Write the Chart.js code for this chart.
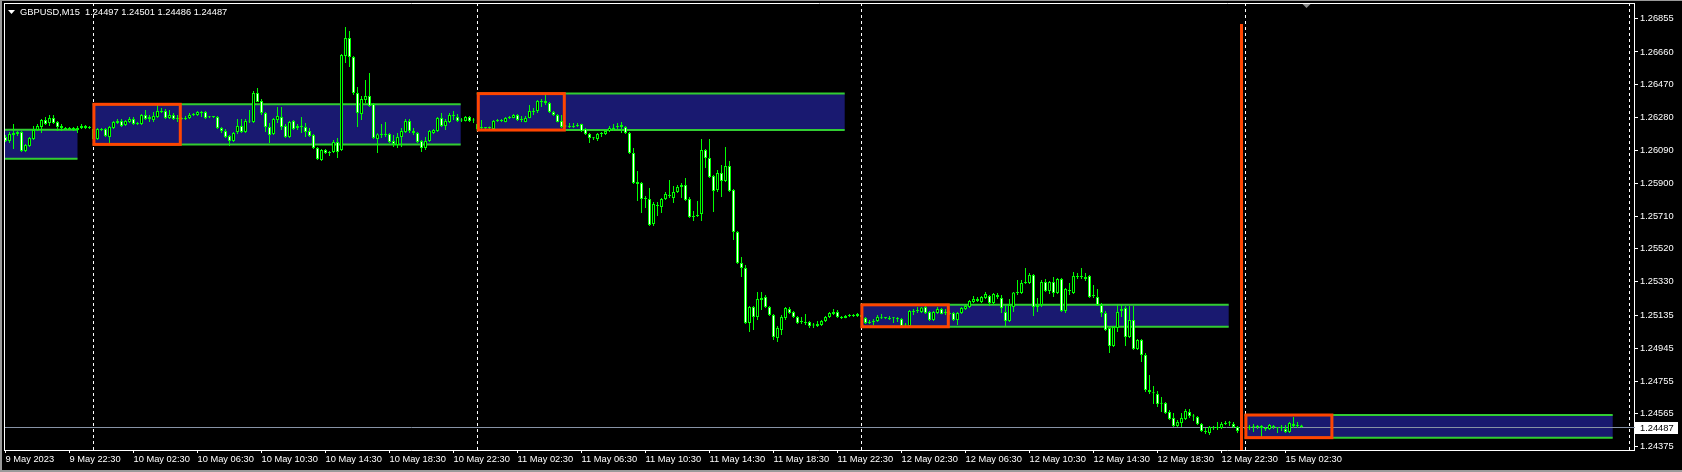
<!DOCTYPE html>
<html>
<head>
<meta charset="utf-8">
<title>GBPUSD,M15</title>
<script src="https://cdn.jsdelivr.net/npm/chart.js@4.4.1/dist/chart.umd.min.js"></script>
<style>
  html, body { margin: 0; padding: 0; background: #000; }
  canvas { display: block; }
</style>
</head>
<body>
<canvas id="chart" width="1682" height="472"></canvas>
<script>
// M15 bars, index 0 = 9 May 18:30
const openPrices = [
  1.26168,1.26145,1.26179,1.26185,1.26197,1.26087,1.26116,1.26156,1.26208,1.26226,
  1.26266,1.26249,1.26278,1.26255,1.26232,1.26220,1.26214,1.26220,1.26208,1.26220,
  1.26232,1.26220,1.26214,1.26156,1.26214,1.26214,1.26168,1.26220,1.26249,1.26260,
  1.26237,1.26255,1.26272,1.26243,1.26243,1.26295,1.26272,1.26266,1.26284,1.26313,
  1.26318,1.26278,1.26295,1.26272,1.26278,1.26272,1.26278,1.26295,1.26295,1.26313,
  1.26313,1.26284,1.26284,1.26284,1.26220,1.26203,1.26174,1.26145,1.26197,1.26232,
  1.26197,1.26260,1.26255,1.26423,1.26376,1.26307,1.26226,1.26185,1.26266,1.26284,
  1.26232,1.26168,1.26260,1.26220,1.26232,1.26226,1.26203,1.26179,1.26104,1.26035,
  1.26092,1.26075,1.26081,1.26139,1.26092,1.26637,1.26741,1.26631,1.26423,1.26301,
  1.26382,1.26405,1.26359,1.26156,1.26179,1.26185,1.26185,1.26145,1.26121,1.26168,
  1.26197,1.26260,1.26203,1.26191,1.26145,1.26104,1.26145,1.26191,1.26203,1.26278,
  1.26232,1.26255,1.26295,1.26284,1.26266,1.26260,1.26284,1.26266,1.26243,1.26226,
  1.26220,1.26226,1.26214,1.26260,1.26260,1.26255,1.26278,1.26278,1.26295,1.26266,
  1.26255,1.26278,1.26313,1.26318,1.26370,1.26376,1.26365,1.26313,1.26295,1.26260,
  1.26232,1.26232,1.26226,1.26232,1.26243,1.26214,1.26185,1.26162,1.26156,1.26185,
  1.26185,1.26203,1.26214,1.26226,1.26226,1.26226,1.26191,1.26075,1.25907,1.25901,
  1.25815,1.25809,1.25664,1.25768,1.25763,1.25809,1.25826,1.25815,1.25849,1.25878,
  1.25890,1.25809,1.25710,1.25710,1.25722,1.26092,1.26046,1.25942,1.25861,1.25959,
  1.25913,1.26000,1.25861,1.25618,1.25438,1.25409,1.25091,1.25183,1.25126,1.25224,
  1.25241,1.25183,1.25137,1.25004,1.25050,1.25120,1.25172,1.25155,1.25126,1.25102,
  1.25097,1.25097,1.25079,1.25074,1.25079,1.25102,1.25126,1.25143,1.25155,1.25126,
  1.25120,1.25131,1.25137,1.25131,1.25137,1.25120,1.25091,1.25097,1.25102,1.25120,
  1.25120,1.25114,1.25120,1.25114,1.25114,1.25079,1.25074,1.25155,1.25160,1.25155,
  1.25183,1.25155,1.25108,1.25149,1.25172,1.25149,1.25149,1.25149,1.25108,1.25149,
  1.25172,1.25183,1.25212,1.25218,1.25212,1.25236,1.25247,1.25207,1.25241,1.25236,
  1.25155,1.25102,1.25183,1.25265,1.25265,1.25322,1.25322,1.25369,1.25183,1.25195,
  1.25328,1.25276,1.25328,1.25265,1.25346,1.25160,1.25276,1.25265,1.25357,1.25357,
  1.25346,1.25363,1.25247,1.25241,1.25195,1.25149,1.25062,1.24958,1.25062,1.25160,
  1.25178,1.25010,1.25108,1.24940,1.24992,1.24906,1.24703,1.24686,1.24680,1.24628,
  1.24628,1.24576,1.24541,1.24495,1.24512,1.24535,1.24576,1.24552,1.24547,1.24506,
  1.24466,1.24454,1.24483,1.24483,1.24483,1.24506,1.24512,1.24506,1.24489,1.24471,
  1.24477,1.24483,1.24489,1.24489,1.24495,1.24483,1.24477,1.24495,1.24483,1.24483,
  1.24477,1.24460,1.24506,1.24495,1.24497
];
const highPrices = [
  1.26179,1.26197,1.26243,1.26203,1.26203,1.26127,1.26168,1.26232,1.26243,1.26272,
  1.26284,1.26295,1.26295,1.26260,1.26243,1.26226,1.26226,1.26226,1.26232,1.26243,
  1.26237,1.26232,1.26220,1.26220,1.26220,1.26220,1.26232,1.26260,1.26272,1.26272,
  1.26266,1.26284,1.26284,1.26255,1.26301,1.26324,1.26295,1.26313,1.26353,1.26336,
  1.26330,1.26324,1.26307,1.26295,1.26284,1.26289,1.26307,1.26307,1.26318,1.26318,
  1.26318,1.26289,1.26289,1.26289,1.26226,1.26214,1.26179,1.26197,1.26272,1.26272,
  1.26272,1.26324,1.26434,1.26452,1.26388,1.26313,1.26249,1.26278,1.26342,1.26342,
  1.26243,1.26260,1.26266,1.26243,1.26284,1.26249,1.26220,1.26185,1.26110,1.26098,
  1.26098,1.26087,1.26150,1.26162,1.26648,1.26805,1.26782,1.26637,1.26457,1.26405,
  1.26498,1.26538,1.26365,1.26190,1.26243,1.26255,1.26191,1.26179,1.26191,1.26220,
  1.26272,1.26272,1.26220,1.26197,1.26150,1.26168,1.26208,1.26214,1.26284,1.26307,
  1.26272,1.26307,1.26318,1.26301,1.26278,1.26289,1.26289,1.26278,1.26255,1.26266,
  1.26226,1.26228,1.26266,1.26272,1.26272,1.26284,1.26289,1.26301,1.26301,1.26289,
  1.26289,1.26353,1.26336,1.26382,1.26388,1.26411,1.26370,1.26318,1.26301,1.26295,
  1.26237,1.26249,1.26249,1.26249,1.26245,1.26220,1.26191,1.26168,1.26191,1.26197,
  1.26208,1.26232,1.26243,1.26249,1.26255,1.26232,1.26197,1.26104,1.25971,1.25907,
  1.25826,1.25873,1.25791,1.25791,1.25815,1.25849,1.25919,1.25884,1.25890,1.25901,
  1.25930,1.25820,1.25739,1.25797,1.26156,1.26098,1.26156,1.25948,1.25977,1.26006,
  1.26110,1.26029,1.25867,1.25624,1.25473,1.25427,1.25189,1.25189,1.25270,1.25270,
  1.25253,1.25189,1.25143,1.25074,1.25137,1.25183,1.25183,1.25160,1.25131,1.25126,
  1.25143,1.25102,1.25091,1.25102,1.25108,1.25131,1.25155,1.25172,1.25166,1.25131,
  1.25137,1.25143,1.25143,1.25149,1.25143,1.25126,1.25108,1.25114,1.25137,1.25143,
  1.25126,1.25131,1.25126,1.25126,1.25120,1.25091,1.25166,1.25172,1.25183,1.25183,
  1.25195,1.25160,1.25160,1.25183,1.25178,1.25172,1.25160,1.25155,1.25155,1.25183,
  1.25195,1.25224,1.25247,1.25241,1.25247,1.25270,1.25253,1.25265,1.25265,1.25253,
  1.25195,1.25230,1.25270,1.25340,1.25340,1.25409,1.25380,1.25375,1.25236,1.25340,
  1.25346,1.25334,1.25357,1.25351,1.25351,1.25294,1.25322,1.25386,1.25380,1.25409,
  1.25380,1.25369,1.25311,1.25288,1.25207,1.25160,1.25068,1.25074,1.25195,1.25195,
  1.25189,1.25189,1.25189,1.24998,1.24998,1.24917,1.24790,1.24726,1.24697,1.24662,
  1.24633,1.24587,1.24570,1.24529,1.24570,1.24593,1.24593,1.24564,1.24552,1.24512,
  1.24483,1.24495,1.24495,1.24518,1.24518,1.24523,1.24523,1.24518,1.24495,1.24483,
  1.24489,1.24500,1.24506,1.24500,1.24500,1.24489,1.24506,1.24500,1.24489,1.24500,
  1.24500,1.24518,1.24547,1.24518,1.24501
];
const lowPrices = [
  1.26139,1.26133,1.26098,1.26174,1.26081,1.26081,1.26110,1.26150,1.26203,1.26191,
  1.26237,1.26232,1.26243,1.26203,1.26203,1.26208,1.26208,1.26203,1.26191,1.26214,
  1.26214,1.26214,1.26150,1.26150,1.26203,1.26168,1.26127,1.26214,1.26243,1.26226,
  1.26232,1.26249,1.26237,1.26237,1.26237,1.26266,1.26255,1.26255,1.26278,1.26307,
  1.26272,1.26272,1.26266,1.26255,1.26266,1.26266,1.26272,1.26289,1.26289,1.26284,
  1.26272,1.26278,1.26278,1.26214,1.26191,1.26162,1.26116,1.26139,1.26185,1.26191,
  1.26191,1.26249,1.26249,1.26370,1.26295,1.26197,1.26133,1.26179,1.26249,1.26208,
  1.26162,1.26162,1.26208,1.26208,1.26191,1.26168,1.26168,1.26098,1.26035,1.26029,
  1.26069,1.26058,1.26075,1.26046,1.26087,1.26596,1.26573,1.26411,1.26226,1.26266,
  1.26365,1.26342,1.26156,1.26075,1.26162,1.26168,1.26133,1.26110,1.26104,1.26110,
  1.26191,1.26191,1.26179,1.26133,1.26081,1.26092,1.26139,1.26185,1.26197,1.26226,
  1.26208,1.26249,1.26266,1.26255,1.26255,1.26258,1.26255,1.26249,1.26203,1.26214,
  1.26214,1.26214,1.26208,1.26255,1.26255,1.26253,1.26272,1.26276,1.26260,1.26255,
  1.26253,1.26276,1.26295,1.26307,1.26342,1.26353,1.26307,1.26289,1.26253,1.26220,
  1.26224,1.26220,1.26220,1.26226,1.26197,1.26179,1.26133,1.26150,1.26145,1.26168,
  1.26179,1.26197,1.26203,1.26214,1.26191,1.26185,1.26069,1.25896,1.25797,1.25728,
  1.25757,1.25653,1.25653,1.25710,1.25728,1.25803,1.25815,1.25786,1.25844,1.25815,
  1.25797,1.25699,1.25681,1.25705,1.25681,1.25988,1.25930,1.25734,1.25849,1.25820,
  1.25907,1.25849,1.25571,1.25432,1.25357,1.25085,1.25039,1.25050,1.25108,1.25166,
  1.25178,1.25131,1.24992,1.24981,1.25021,1.25108,1.25143,1.25120,1.25085,1.25085,
  1.25079,1.25062,1.25062,1.25068,1.25074,1.25097,1.25120,1.25137,1.25120,1.25114,
  1.25118,1.25126,1.25126,1.25126,1.25114,1.25085,1.25085,1.25079,1.25097,1.25114,
  1.25114,1.25108,1.25091,1.25097,1.25068,1.25068,1.25068,1.25137,1.25149,1.25149,
  1.25143,1.25102,1.25102,1.25143,1.25141,1.25137,1.25137,1.25102,1.25079,1.25143,
  1.25166,1.25178,1.25207,1.25212,1.25207,1.25230,1.25189,1.25195,1.25230,1.25149,
  1.25074,1.25097,1.25155,1.25253,1.25259,1.25317,1.25317,1.25131,1.25155,1.25183,
  1.25270,1.25259,1.25241,1.25259,1.25155,1.25149,1.25253,1.25259,1.25346,1.25346,
  1.25334,1.25236,1.25236,1.25189,1.25126,1.25045,1.24917,1.24952,1.25039,1.25126,
  1.24958,1.25004,1.24935,1.24935,1.24865,1.24691,1.24680,1.24622,1.24605,1.24576,
  1.24564,1.24529,1.24489,1.24489,1.24489,1.24529,1.24541,1.24523,1.24500,1.24460,
  1.24448,1.24442,1.24471,1.24471,1.24477,1.24500,1.24495,1.24483,1.24454,1.24466,
  1.24471,1.24471,1.24460,1.24477,1.24431,1.24466,1.24471,1.24477,1.24454,1.24466,
  1.24454,1.24454,1.24483,1.24483,1.24486
];
const closePrices = [
  1.26145,1.26185,1.26191,1.26197,1.26087,1.26121,1.26162,1.26208,1.26232,1.26266,
  1.26243,1.26278,1.26249,1.26226,1.26220,1.26214,1.26220,1.26208,1.26220,1.26232,
  1.26220,1.26226,1.26156,1.26214,1.26208,1.26174,1.26226,1.26255,1.26260,1.26232,
  1.26260,1.26272,1.26243,1.26249,1.26295,1.26272,1.26284,1.26289,1.26318,1.26313,
  1.26278,1.26295,1.26272,1.26278,1.26272,1.26278,1.26295,1.26301,1.26313,1.26307,
  1.26278,1.26282,1.26289,1.26220,1.26203,1.26168,1.26145,1.26191,1.26232,1.26197,
  1.26260,1.26258,1.26423,1.26370,1.26307,1.26226,1.26179,1.26272,1.26289,1.26226,
  1.26168,1.26255,1.26214,1.26232,1.26226,1.26197,1.26174,1.26104,1.26040,1.26092,
  1.26075,1.26081,1.26139,1.26081,1.26643,1.26741,1.26631,1.26423,1.26307,1.26388,
  1.26405,1.26347,1.26162,1.26183,1.26185,1.26180,1.26139,1.26127,1.26168,1.26203,
  1.26260,1.26203,1.26191,1.26139,1.26104,1.26145,1.26203,1.26208,1.26278,1.26232,
  1.26260,1.26295,1.26289,1.26260,1.26264,1.26284,1.26260,1.26264,1.26214,1.26220,
  1.26226,1.26220,1.26260,1.26266,1.26266,1.26278,1.26284,1.26295,1.26266,1.26272,
  1.26278,1.26318,1.26318,1.26376,1.26376,1.26365,1.26313,1.26295,1.26255,1.26226,
  1.26228,1.26226,1.26232,1.26237,1.26203,1.26185,1.26162,1.26160,1.26185,1.26191,
  1.26203,1.26220,1.26222,1.26232,1.26237,1.26191,1.26075,1.25901,1.25896,1.25809,
  1.25809,1.25658,1.25780,1.25774,1.25809,1.25838,1.25832,1.25849,1.25878,1.25890,
  1.25803,1.25705,1.25705,1.25716,1.26092,1.26046,1.25936,1.25855,1.25959,1.25913,
  1.26000,1.25855,1.25618,1.25438,1.25409,1.25091,1.25183,1.25126,1.25230,1.25236,
  1.25183,1.25137,1.25010,1.25062,1.25126,1.25178,1.25149,1.25126,1.25091,1.25097,
  1.25091,1.25074,1.25077,1.25085,1.25102,1.25126,1.25149,1.25155,1.25126,1.25120,
  1.25131,1.25137,1.25131,1.25143,1.25126,1.25091,1.25097,1.25102,1.25126,1.25118,
  1.25122,1.25120,1.25118,1.25116,1.25074,1.25077,1.25160,1.25160,1.25166,1.25181,
  1.25149,1.25108,1.25155,1.25172,1.25143,1.25155,1.25143,1.25108,1.25149,1.25178,
  1.25189,1.25218,1.25230,1.25230,1.25241,1.25259,1.25207,1.25259,1.25253,1.25178,
  1.25102,1.25195,1.25268,1.25270,1.25322,1.25328,1.25369,1.25183,1.25195,1.25328,
  1.25276,1.25328,1.25265,1.25346,1.25160,1.25288,1.25282,1.25363,1.25363,1.25359,
  1.25357,1.25241,1.25249,1.25195,1.25149,1.25050,1.24958,1.25068,1.25155,1.25172,
  1.25010,1.25108,1.24940,1.24992,1.24906,1.24703,1.24691,1.24684,1.24622,1.24624,
  1.24570,1.24535,1.24495,1.24518,1.24541,1.24581,1.24552,1.24550,1.24506,1.24466,
  1.24460,1.24489,1.24481,1.24485,1.24506,1.24512,1.24510,1.24489,1.24466,1.24477,
  1.24483,1.24489,1.24487,1.24495,1.24483,1.24477,1.24500,1.24489,1.24481,1.24485,
  1.24460,1.24512,1.24495,1.24497,1.24487
];

const symbolTitle = 'GBPUSD,M15';

// time axis labels (bar index -> label)
const xTickBars = [0,16,32,48,64,80,96,112,128,144,160,176,192,208,224,240,256,272,288,304,320];
const xTickLabels = [
  '9 May 2023','9 May 22:30','10 May 02:30','10 May 06:30','10 May 10:30','10 May 14:30',
  '10 May 18:30','10 May 22:30','11 May 02:30','11 May 06:30','11 May 10:30','11 May 14:30',
  '11 May 18:30','11 May 22:30','12 May 02:30','12 May 06:30','12 May 10:30','12 May 14:30',
  '12 May 18:30','12 May 22:30','15 May 02:30'
];
const yTickValues = [1.26855,1.26660,1.26470,1.26280,1.26090,1.25900,1.25710,
                     1.25520,1.25330,1.25135,1.24945,1.24755,1.24565,1.24375];
const priceMin = 1.243555;
const priceMax = 1.269436;

// day separators (bar index of 00:00)
const daySeparatorBars = [22, 118, 214, 310, 406];

// range boxes drawn on the chart
const zoneStartBars = [-74, 21.8, 117.8, 213.8, 309.8];
const zoneEndBars   = [18, 113.8, 209.8, 305.8, 401.8];
const zoneHighs     = [1.26210, 1.26357, 1.26419, 1.25196, 1.24558];
const zoneLows      = [1.26042, 1.26125, 1.26208, 1.25069, 1.24427];
const sessionStartBars = [22.1, 118.2, 214.1, 310.1];
const sessionEndBars   = [43.7, 139.7, 235.7, 331.6];
const sessionHighs     = [1.26357, 1.26419, 1.25196, 1.24558];
const sessionLows      = [1.26125, 1.26208, 1.25069, 1.24427];

const markerBar = 309;
const markerTopPrice = 1.26822;
const shiftBar = 325;

const CANDLE = '#00ff00';
const ZONE_FILL = '#191970';
const ZONE_LINE = '#32cd32';
const ORANGE = '#ff4500';
const FONT_FAMILY = '"Liberation Sans", Arial, sans-serif';
const FONT_SIZE = 9.3;

const lastIdx = closePrices.length - 1;
const bidPrice = closePrices[lastIdx];

const bodies = openPrices.map((o, i) => ({x: i, y: [o, closePrices[i]]}));
const wicks = lowPrices.map((l, i) => ({x: i, y: [l, highPrices[i]]}));

const mtPlugin = {
  id: 'mt',
  beforeDraw(chart) {
    const {ctx, width, height} = chart;
    ctx.save();
    ctx.fillStyle = '#000';
    ctx.fillRect(0, 0, width, height);
    ctx.fillStyle = '#9a9a9a';
    ctx.fillRect(0, 0, 2, height);
    ctx.fillRect(0, 0, width, 1);
    ctx.fillRect(0, height - 2, width, 2);
    ctx.restore();
  },
  beforeDatasetsDraw(chart) {
    const {ctx, chartArea: a, scales: {x, y}} = chart;
    ctx.save();
    ctx.beginPath();
    ctx.rect(a.left, a.top, a.right - a.left, a.bottom - a.top);
    ctx.clip();

    // day separators
    ctx.strokeStyle = '#ffffff';
    ctx.lineWidth = 1;
    ctx.setLineDash([3, 3]);
    daySeparatorBars.forEach(b => {
      const px = x.getPixelForValue(b);
      ctx.beginPath();
      ctx.moveTo(px, a.top);
      ctx.lineTo(px, a.bottom);
      ctx.stroke();
    });
    ctx.setLineDash([]);

    // zones
    zoneStartBars.forEach((s, i) => {
      const x1 = x.getPixelForValue(s), x2 = x.getPixelForValue(zoneEndBars[i]);
      const y1 = y.getPixelForValue(zoneHighs[i]), y2 = y.getPixelForValue(zoneLows[i]);
      ctx.fillStyle = ZONE_FILL;
      ctx.fillRect(x1, y1, x2 - x1, y2 - y1);
      ctx.strokeStyle = ZONE_LINE;
      ctx.lineWidth = 2;
      ctx.beginPath();
      ctx.moveTo(x1, y1); ctx.lineTo(x2, y1);
      ctx.moveTo(x1, y2); ctx.lineTo(x2, y2);
      ctx.stroke();
    });

    // bid line
    const by = Math.round(y.getPixelForValue(bidPrice)) + 0.5;
    ctx.strokeStyle = '#8793a6';
    ctx.lineWidth = 1;
    ctx.beginPath();
    ctx.moveTo(a.left, by);
    ctx.lineTo(a.right, by);
    ctx.stroke();
    ctx.restore();
  },
  afterDraw(chart) {
    const {ctx, chartArea: a, scales: {x, y}} = chart;
    ctx.save();
    ctx.beginPath();
    ctx.rect(a.left, a.top, a.right - a.left, a.bottom - a.top);
    ctx.clip();

    // session boxes
    ctx.strokeStyle = ORANGE;
    ctx.lineWidth = 3;
    sessionStartBars.forEach((s, i) => {
      const x1 = x.getPixelForValue(s), x2 = x.getPixelForValue(sessionEndBars[i]);
      const y1 = y.getPixelForValue(sessionHighs[i]), y2 = y.getPixelForValue(sessionLows[i]);
      ctx.strokeRect(x1, y1, x2 - x1, y2 - y1);
    });

    // vertical marker
    const mx = x.getPixelForValue(markerBar);
    ctx.lineWidth = 3;
    ctx.beginPath();
    ctx.moveTo(mx, y.getPixelForValue(markerTopPrice));
    ctx.lineTo(mx, a.bottom);
    ctx.stroke();
    ctx.restore();

    ctx.save();
    // frame left / top
    ctx.strokeStyle = '#ffffff';
    ctx.lineWidth = 1;
    ctx.beginPath();
    ctx.moveTo(a.left + 0.5, a.top);
    ctx.lineTo(a.left + 0.5, a.bottom + 1);
    ctx.moveTo(a.left, a.top + 0.5);
    ctx.lineTo(a.right + 1, a.top + 0.5);
    ctx.stroke();

    // chart shift marker
    const sx = Math.round(x.getPixelForValue(shiftBar)) + 0.5;
    ctx.fillStyle = '#8c8c8c';
    ctx.beginPath();
    ctx.moveTo(sx - 4, a.top + 1);
    ctx.lineTo(sx + 4, a.top + 1);
    ctx.lineTo(sx, a.top + 5);
    ctx.closePath();
    ctx.fill();

    // header
    ctx.fillStyle = '#ffffff';
    ctx.beginPath();
    ctx.moveTo(8, 10);
    ctx.lineTo(15, 10);
    ctx.lineTo(11.5, 14);
    ctx.closePath();
    ctx.fill();
    ctx.font = FONT_SIZE + 'px ' + FONT_FAMILY;
    ctx.textBaseline = 'middle';
    ctx.textAlign = 'left';
    const hdr = symbolTitle + '  ' + [openPrices[lastIdx], highPrices[lastIdx], lowPrices[lastIdx], closePrices[lastIdx]]
      .map(v => v.toFixed(5)).join(' ');
    ctx.fillText(hdr, 20, 12.5);

    // bid price label on the axis
    const by = Math.round(y.getPixelForValue(bidPrice));
    ctx.strokeStyle = '#8793a6';
    ctx.beginPath();
    ctx.moveTo(a.right, by + 0.5);
    ctx.lineTo(a.right + 2, by + 0.5);
    ctx.stroke();
    ctx.fillStyle = '#ffffff';
    ctx.fillRect(a.right + 1, by - 5, 43, 12);
    ctx.fillStyle = '#000000';
    ctx.fillText(bidPrice.toFixed(5), a.right + 6, by + 1);
    ctx.restore();
  }
};

new Chart(document.getElementById('chart'), {
  type: 'bar',
  data: {
    datasets: [
      {
        label: 'body',
        data: bodies,
        order: 0,
        grouped: false,
        barThickness: 3,
        borderWidth: 1,
        borderSkipped: false,
        borderColor: CANDLE,
        inflateAmount: 0,
        minBarLength: 1,
        backgroundColor: c => closePrices[c.dataIndex] > openPrices[c.dataIndex] ? '#000000' : '#ffffff'
      },
      {
        label: 'wick',
        data: wicks,
        order: 1,
        grouped: false,
        barThickness: 1,
        borderWidth: 0,
        inflateAmount: 0,
        minBarLength: 1,
        backgroundColor: CANDLE
      }
    ]
  },
  options: {
    responsive: false,
    animation: false,
    events: [],
    layout: { padding: { left: 4, top: 3, right: 0, bottom: 0 } },
    plugins: {
      legend: { display: false },
      tooltip: { enabled: false },
      title: { display: false }
    },
    scales: {
      x: {
        type: 'linear',
        offset: false,
        min: -0.375,
        max: 407.125,
        grid: { offset: false, drawOnChartArea: false, color: '#ffffff', tickLength: 3 },
        border: { color: '#ffffff' },
        ticks: {
          color: '#ffffff',
          font: { family: FONT_FAMILY, size: FONT_SIZE },
          align: 'start',
          maxRotation: 0,
          autoSkip: false,
          padding: 1,
          callback: (v, i) => xTickLabels[i]
        },
        afterBuildTicks: s => { s.ticks = xTickBars.map(v => ({value: v})); },
        afterFit: s => { s.height = 22; s.paddingLeft = 0; s.paddingRight = 0; }
      },
      y: {
        type: 'linear',
        position: 'right',
        min: priceMin,
        max: priceMax,
        grid: { drawOnChartArea: false, color: '#ffffff', tickLength: 4 },
        border: { color: '#ffffff' },
        ticks: {
          color: '#ffffff',
          font: { family: FONT_FAMILY, size: FONT_SIZE },
          padding: 2,
          autoSkip: false,
          callback: v => v.toFixed(5)
        },
        afterBuildTicks: s => { s.ticks = yTickValues.map(v => ({value: v})); },
        afterFit: s => { s.width = 48; s.paddingTop = 0; s.paddingBottom = 0; }
      }
    }
  },
  plugins: [mtPlugin]
});
</script>
</body>
</html>
